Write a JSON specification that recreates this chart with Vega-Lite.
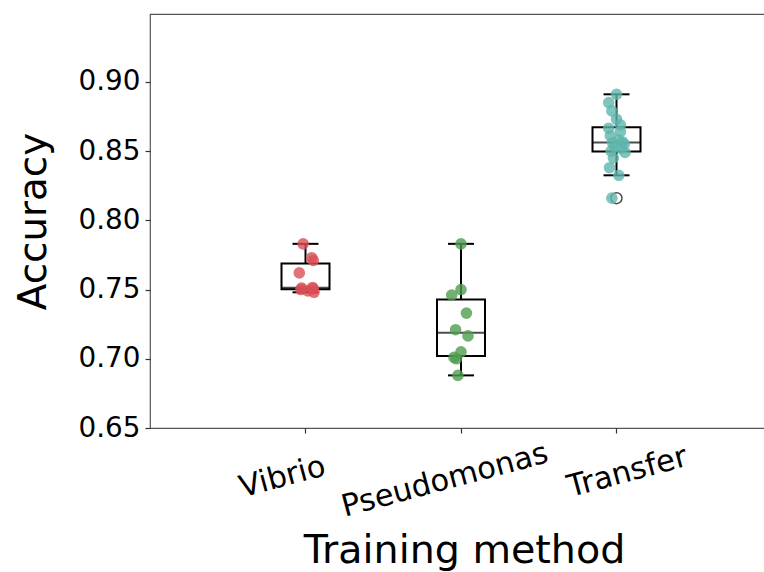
{
  "$schema": "https://vega.github.io/schema/vega-lite/v6.json",
  "autosize": "none",
  "padding": {"left": 150, "top": 14, "right": 0, "bottom": 144},
  "width": 622,
  "height": 414,
  "background": "white",
  "config": {
    "font": "DejaVu Sans",
    "view": {"stroke": "#555555", "strokeWidth": 1.2},
    "axis": {"grid": false, "domain": false, "labelColor": "black", "titleColor": "black", "tickColor": "#333333", "tickWidth": 1.2, "tickSize": 5, "labelFont": "DejaVu Sans", "titleFont": "DejaVu Sans", "titleFontWeight": "normal", "labelLimit": 0}
  },
  "data": {"values": [
    {"method": "Vibrio", "accuracy": 0.783, "jitter": -0.03},
    {"method": "Vibrio", "accuracy": 0.773, "jitter": 0.08},
    {"method": "Vibrio", "accuracy": 0.771, "jitter": 0.1},
    {"method": "Vibrio", "accuracy": 0.762, "jitter": -0.08},
    {"method": "Vibrio", "accuracy": 0.7515, "jitter": 0.09},
    {"method": "Vibrio", "accuracy": 0.751, "jitter": -0.05},
    {"method": "Vibrio", "accuracy": 0.7505, "jitter": 0.1},
    {"method": "Vibrio", "accuracy": 0.750, "jitter": -0.06},
    {"method": "Vibrio", "accuracy": 0.749, "jitter": 0.03},
    {"method": "Vibrio", "accuracy": 0.748, "jitter": 0.11},
    {"method": "Pseudomonas", "accuracy": 0.783, "jitter": 0.0},
    {"method": "Pseudomonas", "accuracy": 0.750, "jitter": 0.0},
    {"method": "Pseudomonas", "accuracy": 0.746, "jitter": -0.12},
    {"method": "Pseudomonas", "accuracy": 0.733, "jitter": 0.07},
    {"method": "Pseudomonas", "accuracy": 0.721, "jitter": -0.07},
    {"method": "Pseudomonas", "accuracy": 0.7165, "jitter": 0.09},
    {"method": "Pseudomonas", "accuracy": 0.705, "jitter": 0.0},
    {"method": "Pseudomonas", "accuracy": 0.701, "jitter": -0.09},
    {"method": "Pseudomonas", "accuracy": 0.700, "jitter": -0.06},
    {"method": "Pseudomonas", "accuracy": 0.688, "jitter": -0.04},
    {"method": "Transfer", "accuracy": 0.891, "jitter": 0.0},
    {"method": "Transfer", "accuracy": 0.885, "jitter": -0.1},
    {"method": "Transfer", "accuracy": 0.879, "jitter": -0.06},
    {"method": "Transfer", "accuracy": 0.873, "jitter": 0.0},
    {"method": "Transfer", "accuracy": 0.869, "jitter": 0.05},
    {"method": "Transfer", "accuracy": 0.8665, "jitter": -0.1},
    {"method": "Transfer", "accuracy": 0.864, "jitter": 0.05},
    {"method": "Transfer", "accuracy": 0.861, "jitter": -0.08},
    {"method": "Transfer", "accuracy": 0.858, "jitter": 0.03},
    {"method": "Transfer", "accuracy": 0.8565, "jitter": 0.08},
    {"method": "Transfer", "accuracy": 0.856, "jitter": -0.05},
    {"method": "Transfer", "accuracy": 0.855, "jitter": 0.1},
    {"method": "Transfer", "accuracy": 0.853, "jitter": -0.02},
    {"method": "Transfer", "accuracy": 0.852, "jitter": 0.06},
    {"method": "Transfer", "accuracy": 0.850, "jitter": -0.07},
    {"method": "Transfer", "accuracy": 0.849, "jitter": 0.11},
    {"method": "Transfer", "accuracy": 0.845, "jitter": -0.04},
    {"method": "Transfer", "accuracy": 0.838, "jitter": -0.09},
    {"method": "Transfer", "accuracy": 0.8325, "jitter": 0.03},
    {"method": "Transfer", "accuracy": 0.816, "jitter": -0.06}
  ]},
  "encoding": {
    "x": {
      "field": "method", "type": "nominal", "sort": ["Vibrio", "Pseudomonas", "Transfer"],
      "scale": {"type": "band", "paddingInner": 0, "paddingOuter": 0.5},
      "axis": {
        "title": "Training method", "titleFontSize": 39.6, "titleX": 314, "titleY": 134, "titleBaseline": "alphabetic", "titleAlign": "center",
        "labelFontSize": 30.5, "labelAngle": -15, "labelAlign": "center", "labelBaseline": "middle",
        "labelOffset": {"expr": "datum.value === 'Vibrio' ? -23 : datum.value === 'Pseudomonas' ? -16 : 11"},
        "labelPadding": {"expr": "datum.value === 'Vibrio' ? 44 : datum.value === 'Pseudomonas' ? 47 : 39"}
      }
    },
    "y": {
      "field": "accuracy", "type": "quantitative",
      "scale": {"domain": [0.65, 0.949], "nice": false, "zero": false},
      "axis": {
        "title": "Accuracy", "titleFontSize": 38.9, "titleX": -117, "titleY": 207, "titleAngle": -90, "titleAlign": "center", "titleBaseline": "middle",
        "values": [0.65, 0.7, 0.75, 0.8, 0.85, 0.9], "format": ".2f",
        "labelFontSize": 27.8, "labelPadding": 5
      }
    }
  },
  "layer": [
    {
      "mark": {
        "type": "boxplot", "extent": 1.5, "size": 48,
        "box": {"fill": "white", "fillOpacity": 0, "stroke": "black", "strokeWidth": 2},
        "median": {"color": "black", "thickness": 2},
        "rule": {"color": "black", "strokeWidth": 2},
        "ticks": {"color": "black", "size": 26, "thickness": 2},
        "outliers": {"shape": "circle", "filled": false, "color": "black", "size": 120, "strokeWidth": 1.5}
      }
    },
    {
      "mark": {"type": "circle", "size": 135, "opacity": 0.8},
      "encoding": {
        "xOffset": {"field": "jitter", "type": "quantitative", "scale": {"domain": [-1, 1]}},
        "color": {
          "field": "method", "type": "nominal",
          "scale": {"domain": ["Vibrio", "Pseudomonas", "Transfer"], "range": ["#d94f55", "#4f9e4f", "#5fb5ad"]},
          "legend": null
        }
      }
    }
  ]
}
